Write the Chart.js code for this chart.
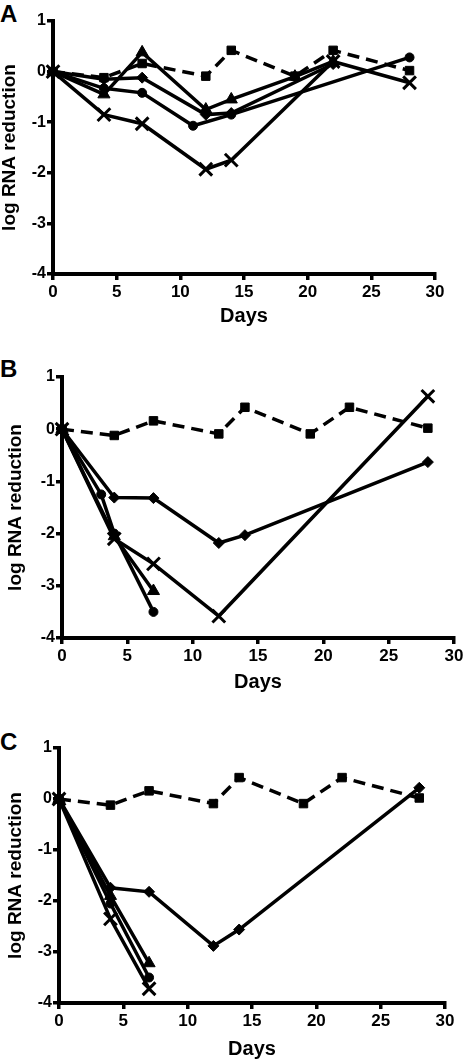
<!DOCTYPE html>
<html>
<head>
<meta charset="utf-8">
<script src="https://cdn.jsdelivr.net/npm/chart.js@4"></script>
<style>
  html, body { margin: 0; padding: 0; background: #fff; }
  body { width: 466px; height: 1061px; position: relative; overflow: hidden; }
  .panel { position: absolute; left: 0; width: 466px; }
  .tag { position: absolute; left: 0; font: bold 24px "Liberation Sans", Arial, sans-serif; line-height: 24px; color: #000; }
</style>
</head>
<body>
<div class="tag" style="top:2px">A</div>
<div class="tag" style="top:357px">B</div>
<div class="tag" style="top:730px">C</div>
<div class="panel" style="top:0;height:335px"><canvas id="chartA"></canvas></div>
<div class="panel" style="top:340px;height:360px"><canvas id="chartB"></canvas></div>
<div class="panel" style="top:700px;height:361px"><canvas id="chartC"></canvas></div>
<script>
// control (dashed, squares) is the same in all three panels
const controlDays = [0, 4, 7, 12, 14, 19, 22, 28];
const controlVals = [0, -0.12, 0.16, -0.09, 0.42, -0.09, 0.42, 0.02];

// panel A
const aCircleDays = [0, 4, 7, 11, 14, 28];
const aCircleVals = [0, -0.33, -0.42, -1.07, -0.85, 0.28];
const aTriangleDays = [0, 4, 7, 12, 14, 19, 22];
const aTriangleVals = [0, -0.45, 0.38, -0.75, -0.55, -0.1, 0.2];
const aDiamondDays = [0, 4, 7, 12, 14, 22];
const aDiamondVals = [0, -0.15, -0.12, -0.85, -0.82, 0.15];
const aCrossDays = [0, 4, 7, 12, 14, 22, 28];
const aCrossVals = [0, -0.85, -1.03, -1.93, -1.75, 0.2, -0.22];

// panel B
const bCircleDays = [0, 3, 4, 7];
const bCircleVals = [0, -1.25, -2.0, -3.5];
const bTriangleDays = [0, 4, 7];
const bTriangleVals = [0, -2.05, -3.1];
const bDiamondDays = [0, 4, 7, 12, 14, 28];
const bDiamondVals = [0, -1.31, -1.32, -2.18, -2.03, -0.63];
const bCrossDays = [0, 4, 7, 12, 28];
const bCrossVals = [0, -2.1, -2.58, -3.58, 0.63];

// panel C
const cCircleDays = [0, 4, 7];
const cCircleVals = [0, -2.05, -3.5];
const cTriangleDays = [0, 4, 7];
const cTriangleVals = [0, -1.9, -3.22];
const cDiamondDays = [0, 4, 7, 12, 14, 28];
const cDiamondVals = [0, -1.74, -1.82, -2.88, -2.56, 0.22];
const cCrossDays = [0, 4, 7];
const cCrossVals = [0, -2.35, -3.72];

const xTicks = [0, 5, 10, 15, 20, 25, 30];
const yTicks = [-4, -3, -2, -1, 0, 1];

const FONT = '"Liberation Sans", Arial, Helvetica, sans-serif';

function pts(days, vals) {
  return days.map((d, i) => ({ x: d, y: vals[i] }));
}

function series(days, vals, style, radius, dashed) {
  return {
    data: pts(days, vals),
    showLine: true,
    borderColor: '#000',
    backgroundColor: '#000',
    borderWidth: 3.5,
    borderDash: dashed ? [12, 7] : [],
    pointStyle: style,
    pointRadius: radius,
    pointBorderWidth: style === 'crossRot' ? 3 : 1,
    pointBorderColor: '#000',
    pointBackgroundColor: '#000',
    clip: false
  };
}

function makePanel(id, sets, g) {
  new Chart(document.getElementById(id), {
    type: 'scatter',
    data: { datasets: sets },
    options: {
      responsive: true,
      maintainAspectRatio: false,
      animation: false,
      events: [],
      layout: { padding: { left: 0, top: g.top, right: g.right, bottom: 0 } },
      plugins: { legend: { display: false }, tooltip: { enabled: false } },
      scales: {
        x: {
          type: 'linear', min: 0, max: 30,
          afterBuildTicks: s => { s.ticks = xTicks.map(v => ({ value: v })); },
          afterFit: s => { s.height = g.xh; },
          border: { display: true, color: '#000', width: 4 },
          grid: { drawOnChartArea: false, drawTicks: true, tickLength: 6, color: '#000', lineWidth: 3.5 },
          ticks: { color: '#000', padding: 2, font: { family: FONT, size: 17, weight: 'bold' } },
          title: { display: true, text: 'Days', color: '#000', padding: { top: 0, bottom: g.tb },
                   font: { family: FONT, size: 20, weight: 'bold', lineHeight: 1 } }
        },
        y: {
          type: 'linear', min: -4, max: 1,
          afterBuildTicks: s => { s.ticks = yTicks.map(v => ({ value: v })); },
          afterFit: s => { s.width = g.left; },
          border: { display: true, color: '#000', width: 4 },
          grid: { drawOnChartArea: false, drawTicks: true, tickLength: 6, color: '#000', lineWidth: 3.5 },
          ticks: { color: '#000', padding: 1, font: { family: FONT, size: 16, weight: 'bold' } },
          title: { display: true, text: 'log RNA reduction', color: '#000', padding: { top: g.yt, bottom: 0 },
                   font: { family: FONT, size: 19, weight: 'bold', lineHeight: 1 } }
        }
      }
    }
  });
}

makePanel('chartA', [
  series(controlDays, controlVals, 'rect', 6, true),
  series(aCircleDays, aCircleVals, 'circle', 4.5),
  series(aTriangleDays, aTriangleVals, 'triangle', 7),
  series(aDiamondDays, aDiamondVals, 'rectRot', 5.5),
  series(aCrossDays, aCrossVals, 'crossRot', 9)
], { left: 53, top: 21, right: 31, xh: 61, tb: 9, yt: 0 });

makePanel('chartB', [
  series(controlDays, controlVals, 'rect', 6, true),
  series(bCircleDays, bCircleVals, 'circle', 4.5),
  series(bTriangleDays, bTriangleVals, 'triangle', 7),
  series(bDiamondDays, bDiamondVals, 'rectRot', 5.5),
  series(bCrossDays, bCrossVals, 'crossRot', 9)
], { left: 62, top: 37, right: 11, xh: 62, tb: 8, yt: 6 });

makePanel('chartC', [
  series(controlDays, controlVals, 'rect', 6, true),
  series(cCircleDays, cCircleVals, 'circle', 4.5),
  series(cTriangleDays, cTriangleVals, 'triangle', 7),
  series(cDiamondDays, cDiamondVals, 'rectRot', 5.5),
  series(cCrossDays, cCrossVals, 'crossRot', 9)
], { left: 59, top: 48, right: 21, xh: 58, tb: 2, yt: 6 });
</script>
</body>
</html>
